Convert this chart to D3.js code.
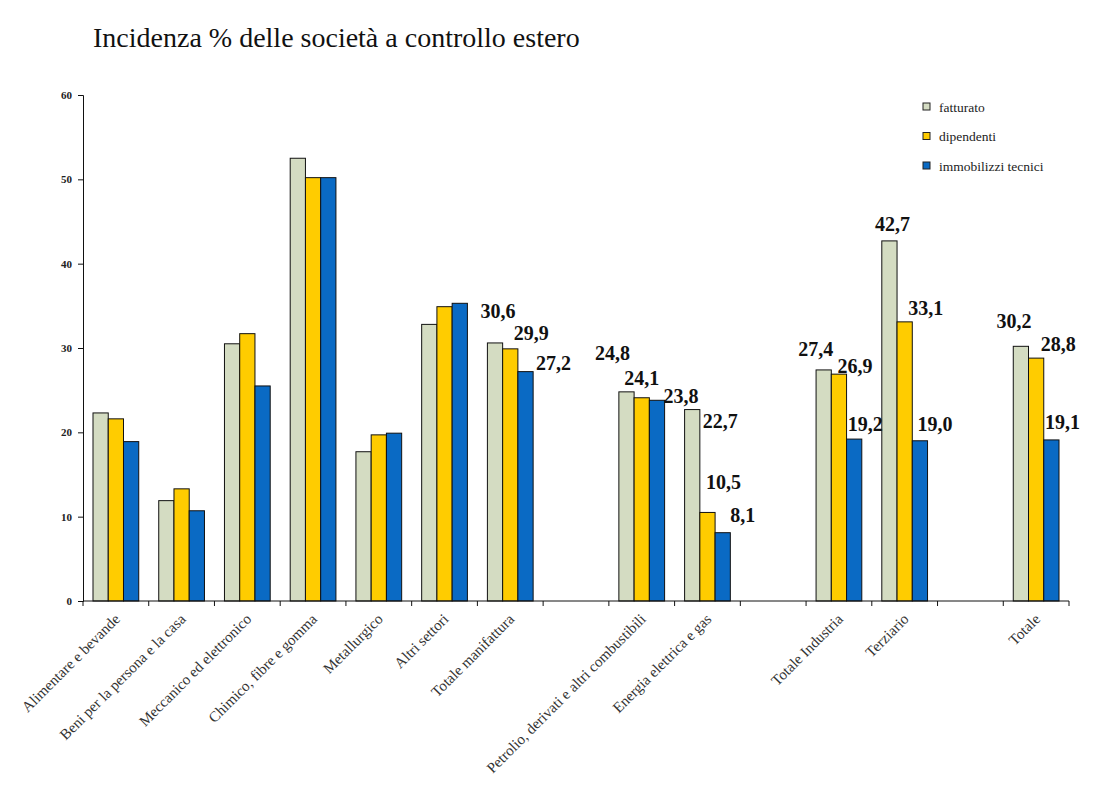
<!DOCTYPE html>
<html>
<head>
<meta charset="utf-8">
<script src="https://cdn.jsdelivr.net/npm/d3@7"></script>
<style>
  body { margin: 0; background: #fff; }
  text { font-family: "Liberation Serif", "Times New Roman", serif; }
</style>
</head>
<body>
<svg id="chart" width="1107" height="787"></svg>
<script>
// incidenza % delle società a controllo estero
const width = 1107;
const height = 787;

// empty strings are the gaps between groups
const categories = [
    "Alimentare e bevande", "Beni per la persona e la casa", "Meccanico ed elettronico",
    "Chimico, fibre e gomma", "Metallurgico", "Altri settori", "Totale manifattura", "",
    "Petrolio, derivati e altri combustibili", "Energia elettrica  e gas", "",
    "Totale Industria", "Terziario", "", "Totale"
];
const seriesNames = ["fatturato", "dipendenti", "immobilizzi tecnici"];
const fatturato   = [22.3, 11.9, 30.5, 52.5, 17.7, 32.8, 30.6, null, 24.8, 22.7, null, 27.4, 42.7, null, 30.2];
const dipendenti  = [21.6, 13.3, 31.7, 50.2, 19.7, 34.9, 29.9, null, 24.1, 10.5, null, 26.9, 33.1, null, 28.8];
const immobilizzi = [18.9, 10.7, 25.5, 50.2, 19.9, 35.3, 27.2, null, 23.8, 8.1, null, 19.2, 19.0, null, 19.1];
// which groups carry value labels
const labelled = [false, false, false, false, false, false, true, false, true, true, false, true, true, false, true];
const yTicks = [0, 10, 20, 30, 40, 50, 60];

const colors = ["#d4dcc2", "#ffcc00", "#0a6ac4"];
// hand placed label offsets (dx from bar centre, dy from bar top), like in the original
const labelNudge = {
    6:  [[3, -32], [21, -16], [28, -9]],
    8:  [[-14, -39], [0, -20], [24, -4]],
    9:  [[28, 11], [16, -30], [20, -18]],
    11: [[-8, -21], [16, -8], [11, -15]],
    12: [[3, -17], [21, -14], [15, -17]],
    14: [[-7, -25], [22, -14], [11, -18]]
};

const margin = { top: 95, left: 83, right: 38, bottom: 186 };
const svg = d3.select("#chart");

const x0 = d3.scaleBand()
    .domain(d3.range(categories.length))
    .range([margin.left, width - margin.right])
    .padding(0);
const x1 = d3.scaleBand()
    .domain(d3.range(3))
    .range([10, x0.bandwidth() - 10])
    .padding(0);
const y = d3.scaleLinear().domain([0, 60]).range([height - margin.bottom, margin.top]);

const values = [fatturato, dipendenti, immobilizzi];
const bars = [];
categories.forEach((c, i) => {
    values.forEach((s, k) => {
        if (s[i] != null) bars.push({ i, k, v: s[i] });
    });
});

// title
svg.append("text")
    .attr("x", 93)
    .attr("y", 47)
    .attr("font-size", 28)
    .attr("fill", "#111")
    .text("Incidenza % delle società a controllo estero");

// bars
svg.append("g")
    .selectAll("rect")
    .data(bars)
    .join("rect")
    .attr("x", d => x0(d.i) + x1(d.k))
    .attr("y", d => y(d.v))
    .attr("width", x1.bandwidth())
    .attr("height", d => y(0) - y(d.v))
    .attr("fill", d => colors[d.k])
    .attr("stroke", "#111")
    .attr("stroke-width", 1);

// value labels
svg.append("g")
    .selectAll("text")
    .data(bars.filter(d => labelled[d.i]))
    .join("text")
    .attr("x", d => x0(d.i) + x1(d.k) + x1.bandwidth() / 2 + labelNudge[d.i][d.k][0])
    .attr("y", d => y(d.v) + labelNudge[d.i][d.k][1])
    .attr("dy", "0.35em")
    .attr("text-anchor", "middle")
    .attr("font-size", 20)
    .attr("font-weight", "bold")
    .attr("fill", "#111")
    .text(d => d.v.toFixed(1).replace(".", ","));

// y axis
const yAxis = svg.append("g")
    .attr("transform", `translate(${margin.left},0)`)
    .call(d3.axisLeft(y).tickValues(yTicks).tickSize(5).tickPadding(6));
yAxis.select(".domain").attr("stroke", "#111");
yAxis.selectAll("line").attr("stroke", "#111");
yAxis.selectAll("text")
    .attr("font-family", "Liberation Serif, serif")
    .attr("font-size", 11)
    .attr("font-weight", "bold")
    .attr("fill", "#222");

// x axis: ticks at slot boundaries
const xg = svg.append("g");
xg.append("line")
    .attr("x1", x0.range()[0]).attr("x2", x0.range()[1])
    .attr("y1", y(0)).attr("y2", y(0))
    .attr("stroke", "#111");
xg.selectAll(".tick")
    .data(d3.range(categories.length + 1))
    .join("line")
    .attr("class", "tick")
    .attr("x1", i => x0.range()[0] + i * x0.bandwidth())
    .attr("x2", i => x0.range()[0] + i * x0.bandwidth())
    .attr("y1", y(0)).attr("y2", y(0) + 5)
    .attr("stroke", "#111");
xg.selectAll(".lab")
    .data(categories.map((c, i) => ({ c, i })).filter(d => d.c))
    .join("text")
    .attr("class", "lab")
    .attr("transform", d => `translate(${x0(d.i) + x0.bandwidth() / 2 + 5},${y(0) + 19}) rotate(-45)`)
    .attr("text-anchor", "end")
    .attr("font-size", 15)
    .attr("fill", "#333")
    .text(d => d.c);

// legend
const legend = svg.append("g").attr("transform", "translate(923,107)");
seriesNames.forEach((name, k) => {
    const g = legend.append("g").attr("transform", `translate(0,${k * 29.5})`);
    g.append("rect")
        .attr("x", 0).attr("y", -4)
        .attr("width", 7).attr("height", 7)
        .attr("fill", colors[k])
        .attr("stroke", "#222");
    g.append("text")
        .attr("x", 16).attr("y", 0)
        .attr("dy", "0.35em")
        .attr("font-size", 13.5)
        .attr("fill", "#222")
        .text(name);
});
</script>
</body>
</html>
